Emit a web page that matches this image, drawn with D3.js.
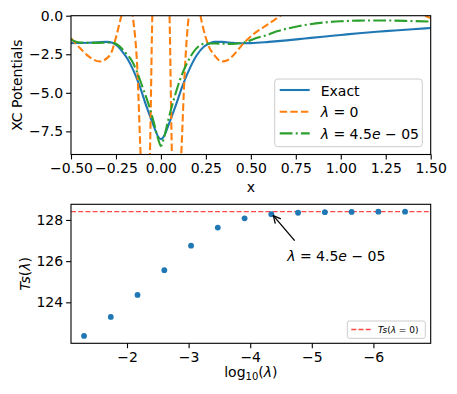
<!DOCTYPE html>
<html lang="en">
<head>
<meta charset="UTF-8">
<title>XC Potentials</title>
<script src="https://d3js.org/d3.v7.min.js"></script>
<style>
    body { margin: 0; background: #fff; }
    svg { font-family: "DejaVu Sans", sans-serif; }
</style>
</head>
<body>
<div id="chart"></div>
<script>
// --- top panel: XC potentials ---
const exactX = [-0.5, -0.45, -0.4, -0.35, -0.3, -0.27, -0.24, -0.21, -0.183, -0.155, -0.12, -0.08, -0.043, -0.015, 0,
                0.015, 0.045, 0.08, 0.12, 0.161, 0.2, 0.24, 0.272, 0.3, 0.34, 0.4, 0.45, 0.5, 0.6, 0.7, 0.8, 0.9,
                1.0, 1.1, 1.2, 1.3, 1.4, 1.5];
const exactV = [-1.78, -1.77, -1.75, -1.72, -1.70, -1.76, -1.98, -2.4, -2.86, -3.5, -4.5, -5.9, -7.06, -7.85, -8.0,
                -7.85, -7.0, -5.9, -4.55, -3.4, -2.55, -2.0, -1.79, -1.7, -1.7, -1.76, -1.79, -1.78, -1.7, -1.6, -1.48, -1.36,
                -1.25, -1.14, -1.04, -0.96, -0.88, -0.8];

const lam0X = [-0.5, -0.45, -0.4, -0.34, -0.3, -0.277, -0.249, -0.23, -0.22, -0.2, -0.185, -0.17, -0.157, -0.131,
               -0.113, -0.09, -0.075, -0.061, -0.048, -0.03, 0, 0.03, 0.048, 0.061, 0.075, 0.09, 0.113, 0.133, 0.155,
               0.17, 0.19, 0.205, 0.22, 0.235, 0.263, 0.3, 0.337, 0.373, 0.4, 0.46, 0.52, 0.59, 0.63, 0.665, 0.8,
               1.0, 1.2, 1.4, 1.44, 1.47, 1.5];
const lam0V = [-1.46, -2.1, -2.65, -2.97, -2.75, -2.43, -1.36, -0.49, 0, 1.0, 1.3, 1.0, 0, -3.5,
               -9, -14, -14, -9, 0, 6, 9, 6, 0, -9, -14, -14, -9, -3.5, 0,
               1.0, 1.3, 1.0, 0, -0.8, -1.9, -2.6, -2.97, -2.87, -2.6, -1.78, -1.15, -0.6, -0.28, 0, 2,
               3, 2.5, 0.8, 0.2, 0, -0.15];

const regX = [-0.5, -0.46, -0.4, -0.35, -0.3, -0.26, -0.22, -0.19, -0.165, -0.138, -0.1, -0.07, -0.04, -0.015, 0,
              0.015, 0.04, 0.07, 0.106, 0.14, 0.17, 0.21, 0.25, 0.3, 0.35, 0.4, 0.44, 0.475, 0.53, 0.59, 0.65, 0.77,
              0.9, 1.0, 1.1, 1.25, 1.4, 1.5];
const regV = [-1.55, -1.72, -1.76, -1.76, -1.74, -1.78, -2.1, -2.5, -2.86, -3.5, -4.7, -5.7, -6.9, -8.0, -8.45,
              -8.0, -6.8, -5.5, -4.16, -3.2, -2.55, -1.98, -1.8, -1.8, -1.82, -1.83, -1.78, -1.7, -1.45, -1.25, -1.0, -0.67,
              -0.45, -0.36, -0.32, -0.31, -0.35, -0.38];

const xTopTicks = [-0.5, -0.25, 0, 0.25, 0.5, 0.75, 1.0, 1.25, 1.5];
const yTopTicks = [0, -2.5, -5, -7.5];

// --- bottom panel: Ts against log10(lambda) ---
const lamLog = [-1.303, -1.737, -2.171, -2.606, -3.040, -3.474, -3.909, -4.343, -4.777, -5.212, -5.646, -6.080, -6.514];
const tsVals = [122.37, 123.29, 124.36, 125.56, 126.75, 127.63, 128.08, 128.28, 128.35, 128.38, 128.39, 128.40, 128.40];
const tsZero = 128.40;
const pickIdx = 7;            // lambda = 4.5e-05
const pickText = [-4.6, 126]; // where the annotation text sits
const xBotTicks = [-2, -3, -4, -5, -6];
const yBotTicks = [124, 126, 128];

const W = 457, H = 394;
const svg = d3.select("#chart").append("svg").attr("width", W).attr("height", H);

const topBox = {l: 71, r: 430.7, t: 15.7, b: 154.5};
const botBox = {l: 71, r: 430.7, t: 204.3, b: 343.3};

const xTop = d3.scaleLinear().domain([-0.5, 1.5]).range([topBox.l, topBox.r]);
const yTop = d3.scaleLinear().domain([-9, 0]).range([topBox.b, topBox.t]);
const xBot = d3.scaleLinear().domain([-1.091, -6.93]).range([botBox.l, botBox.r]);
const yBot = d3.scaleLinear().domain([122.01, 128.76]).range([botBox.b, botBox.t]);

// writes mathtext-like pieces as tspans: [text, italic]
function mathText(sel, parts) {
    parts.forEach(p => {
        sel.append("tspan")
            .attr("font-style", p[1] ? "italic" : "normal")
            .text(p[0]);
    });
    return sel;
}

function drawAxes(box, xs, ys, xTicks, yTicks, xFmt, yFmt) {
    const gx = svg.append("g")
        .attr("transform", `translate(0,${box.b})`)
        .call(d3.axisBottom(xs).tickValues(xTicks).tickFormat(xFmt).tickSize(4.9).tickPadding(4));
    const gy = svg.append("g")
        .attr("transform", `translate(${box.l},0)`)
        .call(d3.axisLeft(ys).tickValues(yTicks).tickFormat(yFmt).tickSize(4.9).tickPadding(3));
    [gx, gy].forEach(g => {
        g.attr("font-size", 14).attr("font-family", "DejaVu Sans");
        g.select(".domain").remove();
        g.selectAll(".tick line").attr("stroke", "#000").attr("stroke-width", 1.1);
        g.selectAll(".tick text").attr("fill", "#000");
    });
}

// ---------- top panel ----------
svg.append("clipPath").attr("id", "clipTop").append("rect")
    .attr("x", topBox.l).attr("y", topBox.t)
    .attr("width", topBox.r - topBox.l).attr("height", topBox.b - topBox.t);

const series = [
    {x: exactX, v: exactV, color: "#1f77b4", dash: null},
    {x: lam0X, v: lam0V, color: "#ff7f0e", dash: "7.4,3.2"},
    {x: regX, v: regV, color: "#2ca02c", dash: "12.8,3.2,2,3.2"}
];

const line = d3.line()
    .x(d => xTop(d[0]))
    .y(d => yTop(d[1]))
    .curve(d3.curveMonotoneX);

const plotTop = svg.append("g").attr("clip-path", "url(#clipTop)");
series.forEach(s => {
    plotTop.append("path")
        .datum(s.x.map((x, i) => [x, s.v[i]]))
        .attr("d", line)
        .attr("fill", "none")
        .attr("stroke", s.color)
        .attr("stroke-width", 2.1)
        .attr("stroke-dasharray", s.dash);
});

drawAxes(topBox, xTop, yTop, xTopTicks, yTopTicks, d3.format(".2f"), d3.format(".1f"));

svg.append("rect")
    .attr("x", topBox.l).attr("y", topBox.t)
    .attr("width", topBox.r - topBox.l).attr("height", topBox.b - topBox.t)
    .attr("fill", "none").attr("stroke", "#000").attr("stroke-width", 1.1);

svg.append("text")
    .attr("x", (topBox.l + topBox.r) / 2).attr("y", 191.5)
    .attr("text-anchor", "middle").attr("font-size", 14)
    .text("x");

svg.append("text")
    .attr("transform", `translate(22,${(topBox.t + topBox.b) / 2}) rotate(-90)`)
    .attr("text-anchor", "middle").attr("font-size", 14)
    .text("XC Potentials");

// legend
const leg = svg.append("g");
leg.append("rect")
    .attr("x", 274.7).attr("y", 79).attr("width", 147.6).attr("height", 67.7).attr("rx", 3)
    .attr("fill", "#fff").attr("fill-opacity", 0.8)
    .attr("stroke", "#ccc").attr("stroke-width", 1);
const legLabels = [
    [["Exact", false]],
    [["λ", true], [" = 0", false]],
    [["λ", true], [" = 4.5", false], ["e", true], [" − 05", false]]
];
series.forEach((s, i) => {
    const cy = 90 + i * 21.7;
    leg.append("line")
        .attr("x1", 279.7).attr("x2", 309.7).attr("y1", cy).attr("y2", cy)
        .attr("stroke", s.color).attr("stroke-width", 2.1)
        .attr("stroke-dasharray", s.dash);
    mathText(leg.append("text").attr("x", 320.7).attr("y", cy + 5.5).attr("font-size", 14), legLabels[i]);
});

// ---------- bottom panel ----------
svg.append("line")
    .attr("x1", botBox.l).attr("x2", botBox.r)
    .attr("y1", yBot(tsZero)).attr("y2", yBot(tsZero))
    .attr("stroke", "#ff2a2a").attr("stroke-opacity", 0.85)
    .attr("stroke-width", 1.3).attr("stroke-dasharray", "5,2.2");

svg.append("g").selectAll("circle")
    .data(lamLog)
    .join("circle")
    .attr("cx", d => xBot(d))
    .attr("cy", (d, i) => yBot(tsVals[i]))
    .attr("r", 2.9)
    .attr("fill", "#1f77b4");

drawAxes(botBox, xBot, yBot, xBotTicks, yBotTicks, d3.format("d"), d3.format("d"));

svg.append("rect")
    .attr("x", botBox.l).attr("y", botBox.t)
    .attr("width", botBox.r - botBox.l).attr("height", botBox.b - botBox.t)
    .attr("fill", "none").attr("stroke", "#000").attr("stroke-width", 1.1);

// annotation
svg.append("defs").append("marker")
    .attr("id", "head").attr("viewBox", "0 0 10 10")
    .attr("refX", 9).attr("refY", 5)
    .attr("markerWidth", 7).attr("markerHeight", 7)
    .attr("orient", "auto")
    .append("path").attr("d", "M1,1 L9,5 L1,9")
    .attr("fill", "none").attr("stroke", "#000").attr("stroke-width", 1.4);

const px = xBot(lamLog[pickIdx]), py = yBot(tsVals[pickIdx]);
const tx = xBot(pickText[0]), ty = yBot(pickText[1]);
svg.append("line")
    .attr("x1", tx + 7.5).attr("y1", ty - 20.5)
    .attr("x2", px + 2).attr("y2", py + 1.5)
    .attr("stroke", "#000").attr("stroke-width", 1.3)
    .attr("marker-end", "url(#head)");
mathText(svg.append("text").attr("x", tx).attr("y", ty).attr("font-size", 14),
    [["λ", true], [" = 4.5", false], ["e", true], [" − 05", false]]);

// axis labels
const xl = svg.append("text")
    .attr("x", (botBox.l + botBox.r) / 2).attr("y", 377)
    .attr("text-anchor", "middle").attr("font-size", 14);
xl.append("tspan").text("log");
xl.append("tspan").attr("font-size", 10).attr("dy", 3).text("10");
xl.append("tspan").attr("dy", -3).text("(");
xl.append("tspan").attr("font-style", "italic").text("λ");
xl.append("tspan").text(")");

mathText(svg.append("text")
    .attr("transform", `translate(30,${(botBox.t + botBox.b) / 2}) rotate(-90)`)
    .attr("text-anchor", "middle").attr("font-size", 14),
    [["Ts", true], ["(", false], ["λ", true], [")", false]]);

// small legend
const leg2 = svg.append("g");
leg2.append("rect")
    .attr("x", 347.3).attr("y", 321).attr("width", 78).attr("height", 17.3).attr("rx", 2)
    .attr("fill", "#fff").attr("fill-opacity", 0.8)
    .attr("stroke", "#ccc").attr("stroke-width", 1);
leg2.append("line")
    .attr("x1", 351.3).attr("x2", 370.7).attr("y1", 329.5).attr("y2", 329.5)
    .attr("stroke", "#ff2a2a").attr("stroke-opacity", 0.85)
    .attr("stroke-width", 1.3).attr("stroke-dasharray", "5,2.2");
mathText(leg2.append("text").attr("x", 378).attr("y", 332.8).attr("font-size", 9),
    [["Ts", true], ["(", false], ["λ", true], [" = 0)", false]]);
</script>
</body>
</html>
